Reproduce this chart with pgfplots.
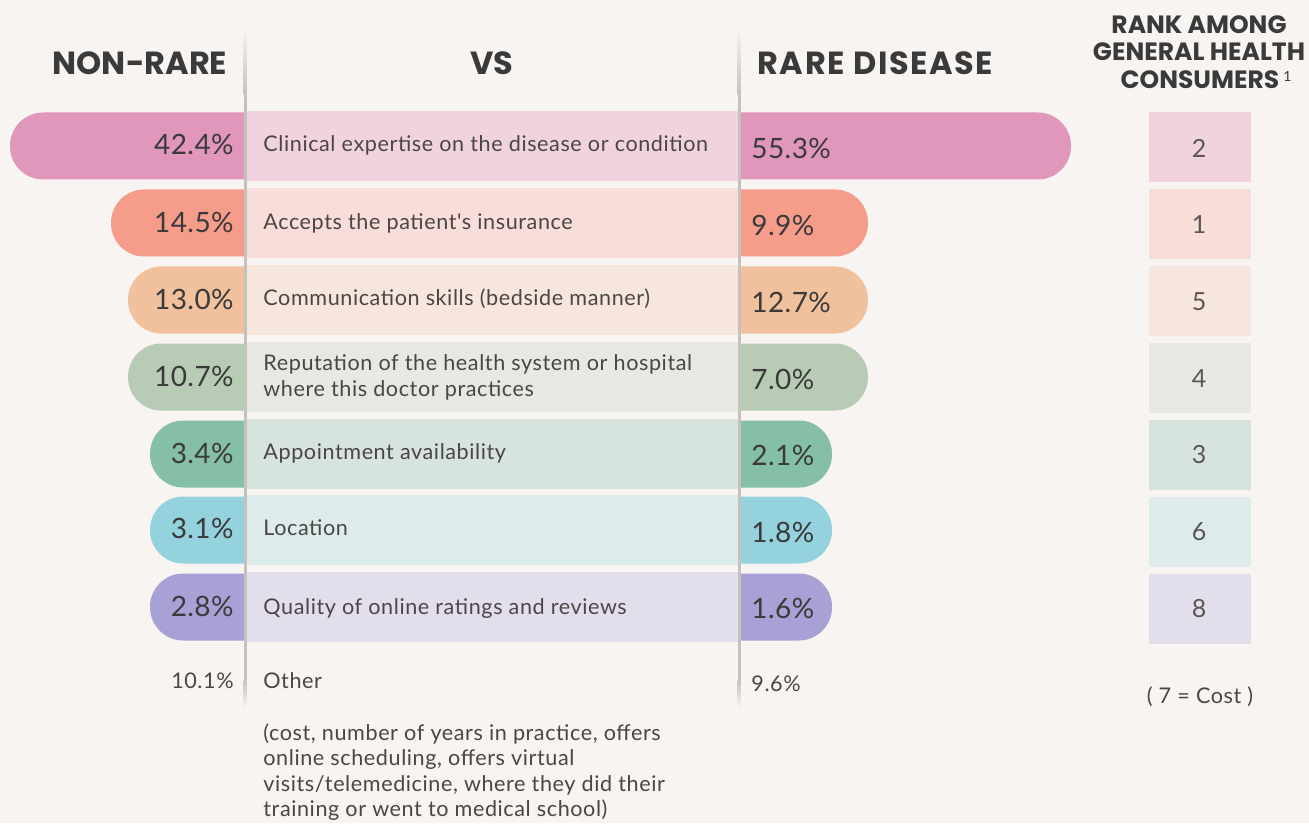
\documentclass[border=0pt]{standalone}
\usepackage{fontspec}
\setmainfont{Lato}
\newfontfamily\headfont{Poppins}
\newfontfamily\bodyfont{Lato}[LetterSpace=2.7]
\newfontfamily\pctfont{Lato}[LetterSpace=1.5]
\usepackage{pgfplots}
\pgfplotsset{compat=1.18}
\definecolor{bg}{HTML}{F8F4F1}
\definecolor{txt}{HTML}{3A3A3A}
\definecolor{body}{HTML}{4A4646}
\definecolor{rk}{HTML}{5A5656}
\definecolor{lineC}{HTML}{C6C1BD}
\definecolor{p1}{HTML}{E196BB}\definecolor{b1}{HTML}{F1D3DF}
\definecolor{p2}{HTML}{F59C8A}\definecolor{b2}{HTML}{F8DDD9}
\definecolor{p3}{HTML}{F1C09D}\definecolor{b3}{HTML}{F7E6DE}
\definecolor{p4}{HTML}{B8CBB5}\definecolor{b4}{HTML}{E7E8E2}
\definecolor{p5}{HTML}{86BFA8}\definecolor{b5}{HTML}{D7E3DD}
\definecolor{p6}{HTML}{94D2DD}\definecolor{b6}{HTML}{DDECEB}
\definecolor{p7}{HTML}{A8A1D6}\definecolor{b7}{HTML}{E3DEEB}
\begin{document}
\begin{tikzpicture}
\begin{axis}[scale only axis, width=654.5pt, height=411.5pt,
  xmin=0, xmax=1309, ymin=0, ymax=823, y dir=reverse,
  hide axis, clip=false,
  pill/.style={draw=none, rounded corners=16.6pt, forget plot},
  band/.style={draw=none, forget plot}]
\fill[bg] (axis cs:0,0) rectangle (axis cs:1309,823);
% left pills (non-rare): outer end x, row centre y
\addplot[pill, fill=p1] coordinates {(320,146) (320,112.5) (10,112.5) (10,179.5) (320,179.5)};
\addplot[pill, fill=p2] coordinates {(320,223) (320,189.5) (111,189.5) (111,256.5) (320,256.5)};
\addplot[pill, fill=p3] coordinates {(320,300) (320,266.5) (128,266.5) (128,333.5) (320,333.5)};
\addplot[pill, fill=p4] coordinates {(320,377) (320,343.5) (128,343.5) (128,410.5) (320,410.5)};
\addplot[pill, fill=p5] coordinates {(320,454) (320,420.5) (150,420.5) (150,487.5) (320,487.5)};
\addplot[pill, fill=p6] coordinates {(320,530) (320,496.5) (150,496.5) (150,563.5) (320,563.5)};
\addplot[pill, fill=p7] coordinates {(320,607) (320,573.5) (150,573.5) (150,640.5) (320,640.5)};
% right pills (rare disease)
\addplot[pill, fill=p1] coordinates {(680,146) (680,112.5) (1071,112.5) (1071,179.5) (680,179.5)};
\addplot[pill, fill=p2] coordinates {(680,223) (680,189.5) (868,189.5) (868,256.5) (680,256.5)};
\addplot[pill, fill=p3] coordinates {(680,300) (680,266.5) (868,266.5) (868,333.5) (680,333.5)};
\addplot[pill, fill=p4] coordinates {(680,377) (680,343.5) (868,343.5) (868,410.5) (680,410.5)};
\addplot[pill, fill=p5] coordinates {(680,454) (680,420.5) (832,420.5) (832,487.5) (680,487.5)};
\addplot[pill, fill=p6] coordinates {(680,530) (680,496.5) (832,496.5) (832,563.5) (680,563.5)};
\addplot[pill, fill=p7] coordinates {(680,607) (680,573.5) (832,573.5) (832,640.5) (680,640.5)};
% label bands
\addplot[band, fill=b1] coordinates {(247,111) (738,111) (738,181) (247,181)};
\addplot[band, fill=b2] coordinates {(247,188) (738,188) (738,258) (247,258)};
\addplot[band, fill=b3] coordinates {(247,265) (738,265) (738,335) (247,335)};
\addplot[band, fill=b4] coordinates {(247,342) (738,342) (738,412) (247,412)};
\addplot[band, fill=b5] coordinates {(247,419) (738,419) (738,489) (247,489)};
\addplot[band, fill=b6] coordinates {(247,495) (738,495) (738,565) (247,565)};
\addplot[band, fill=b7] coordinates {(247,572) (738,572) (738,642) (247,642)};
% rank boxes
\addplot[band, fill=b1] coordinates {(1149,112) (1251,112) (1251,182) (1149,182)};
\addplot[band, fill=b2] coordinates {(1149,189) (1251,189) (1251,259) (1149,259)};
\addplot[band, fill=b3] coordinates {(1149,266) (1251,266) (1251,336) (1149,336)};
\addplot[band, fill=b4] coordinates {(1149,343) (1251,343) (1251,413) (1149,413)};
\addplot[band, fill=b5] coordinates {(1149,420) (1251,420) (1251,490) (1149,490)};
\addplot[band, fill=b6] coordinates {(1149,497) (1251,497) (1251,567) (1149,567)};
\addplot[band, fill=b7] coordinates {(1149,574) (1251,574) (1251,644) (1149,644)};
% dividers
\shade[top color=bg, bottom color=lineC] (axis cs:243.5,28) rectangle (axis cs:246.5,95);
\fill[lineC] (axis cs:243.5,95) rectangle (axis cs:246.5,680);
\shade[top color=lineC, bottom color=bg] (axis cs:243.5,680) rectangle (axis cs:246.5,708);
\shade[top color=bg, bottom color=lineC] (axis cs:737.5,28) rectangle (axis cs:740.5,95);
\fill[lineC] (axis cs:737.5,95) rectangle (axis cs:740.5,680);
\shade[top color=lineC, bottom color=bg] (axis cs:737.5,680) rectangle (axis cs:740.5,708);
% headers
\begin{scope}[every node/.style={inner sep=0pt, text=txt}]
\node[anchor=center] at (axis cs:140,63) {\headfont\bfseries\fontsize{16}{18}\selectfont NON-RARE};
\node[anchor=center] at (axis cs:492,63) {\headfont\bfseries\fontsize{16}{18}\selectfont VS};
\node[anchor=west] at (axis cs:757,63) {\headfont\bfseries\fontsize{16}{18}\selectfont\addfontfeatures{LetterSpace=5}RARE DISEASE};
\node[anchor=center] at (axis cs:1199,25) {\headfont\bfseries\fontsize{12.5}{14}\selectfont RANK AMONG};
\node[anchor=center] at (axis cs:1199,52) {\headfont\bfseries\fontsize{12.5}{14}\selectfont GENERAL HEALTH};
\node[anchor=center] at (axis cs:1206,80) {\headfont\bfseries\fontsize{12.5}{14}\selectfont CONSUMERS\,{\normalfont\mdseries\fontsize{7}{8}\selectfont\raisebox{3.5pt}{1}}};
\end{scope}
% percentages and labels
\begin{scope}[every node/.style={inner sep=0pt, text=txt, font=\pctfont\fontsize{14}{16}\selectfont}]
\node[anchor=east] at (axis cs:234,144) {42.4\%};
\node[anchor=east] at (axis cs:234,222) {14.5\%};
\node[anchor=east] at (axis cs:234,299) {13.0\%};
\node[anchor=east] at (axis cs:234,376) {10.7\%};
\node[anchor=east] at (axis cs:234,453) {3.4\%};
\node[anchor=east] at (axis cs:234,528) {3.1\%};
\node[anchor=east] at (axis cs:234,606) {2.8\%};
\node[anchor=west] at (axis cs:751,148) {55.3\%};
\node[anchor=west] at (axis cs:751,225) {9.9\%};
\node[anchor=west] at (axis cs:751,302) {12.7\%};
\node[anchor=west] at (axis cs:751,379) {7.0\%};
\node[anchor=west] at (axis cs:751,455) {2.1\%};
\node[anchor=west] at (axis cs:751,532) {1.8\%};
\node[anchor=west] at (axis cs:751,608) {1.6\%};
\end{scope}
\begin{scope}[every node/.style={inner sep=0pt, text=body, font=\bodyfont\fontsize{10.8}{12}\selectfont, anchor=base west}]
\node at (axis cs:263,152) {Clinical expertise on the disease or condition};
\node at (axis cs:263,230) {Accepts the patient's insurance};
\node at (axis cs:263,306) {Communication skills (bedside manner)};
\node at (axis cs:263,370) {Reputation of the health system or hospital};
\node at (axis cs:263,396) {where this doctor practices};
\node at (axis cs:263,459) {Appointment availability};
\node at (axis cs:263,535) {Location};
\node at (axis cs:263,614) {Quality of online ratings and reviews};
\node at (axis cs:263,688) {Other};
\node at (axis cs:263,740) {(cost, number of years in practice, offers};
\node at (axis cs:263,765.5) {online scheduling, offers virtual};
\node at (axis cs:263,791) {visits/telemedicine, where they did their};
\node at (axis cs:263,816.5) {training or went to medical school)};
\node[anchor=base east] at (axis cs:234,688) {10.1\%};
\node at (axis cs:751,691) {9.6\%};
\node[anchor=base] at (axis cs:1200,703) {( 7 = Cost )};
\end{scope}
\begin{scope}[every node/.style={inner sep=0pt, text=rk, font=\fontsize{12.5}{14}\selectfont, anchor=center}]
\node at (axis cs:1199,148) {2};
\node at (axis cs:1199,225) {1};
\node at (axis cs:1199,302) {5};
\node at (axis cs:1199,379) {4};
\node at (axis cs:1199,455) {3};
\node at (axis cs:1199,532) {6};
\node at (axis cs:1199,609) {8};
\end{scope}
\end{axis}
\end{tikzpicture}
\end{document}
